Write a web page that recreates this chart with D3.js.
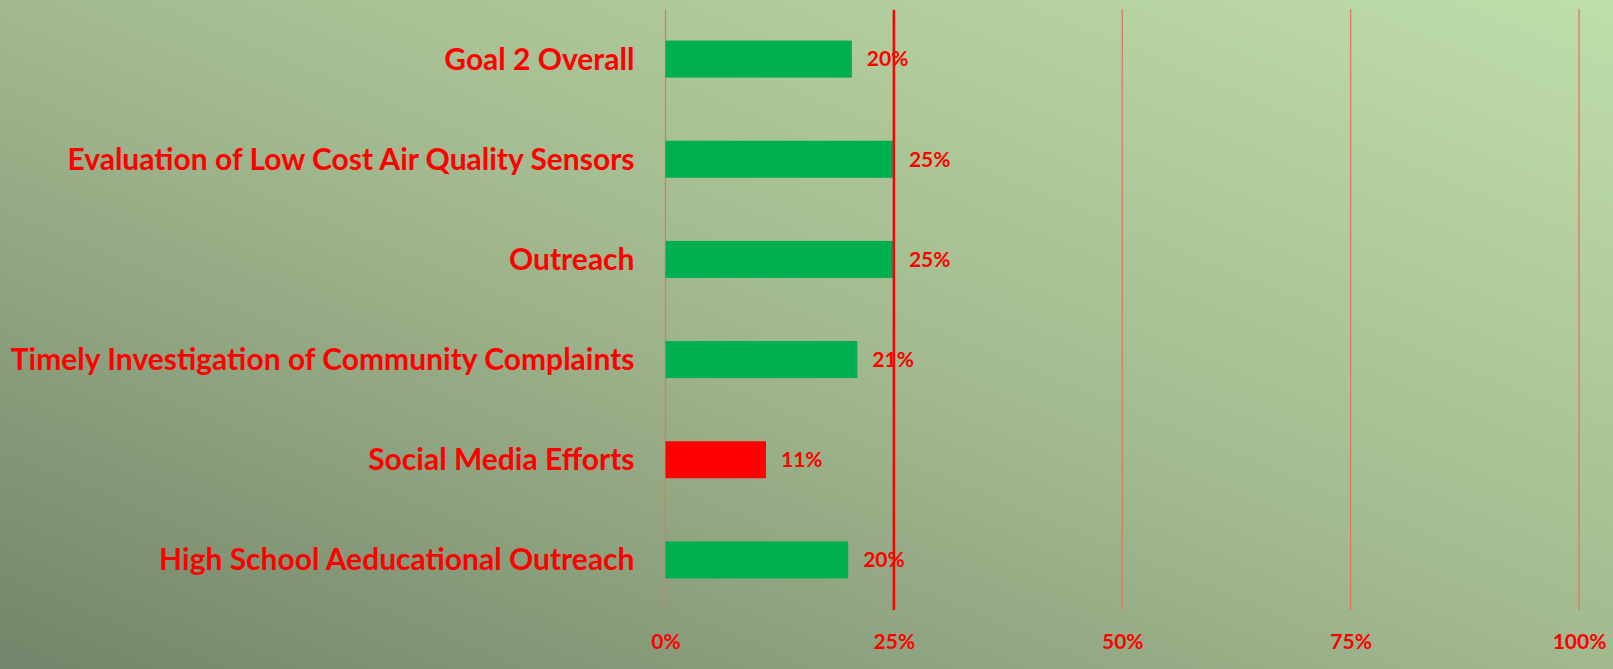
<!DOCTYPE html>
<html>
<head>
<meta charset="utf-8">
<style>
  html, body { margin:0; padding:0; overflow:hidden; }
  text { font-family: Lato, "Open Sans", sans-serif; font-weight: bold; fill: #ff0000; }
</style>
</head>
<body>
<div id="chart-area"></div>

<script src="https://cdn.jsdelivr.net/npm/d3@7"></script>
<script>
    const width = 1613;
    const height = 669;

    // data, top to bottom
    const categories = ["Goal 2 Overall", "Evaluation of Low Cost Air Quality Sensors", "Outreach",
        "Timely Investigation of Community Complaints", "Social Media Efforts", "High School Aeducational Outreach"];
    const values = [0.204, 0.25, 0.25, 0.21, 0.11, 0.20];
    const barColors = ["#00b050", "#00b050", "#00b050", "#00b050", "#ff0000", "#00b050"];
    const tickValues = [0, 0.25, 0.5, 0.75, 1];
    const targetValue = 0.25;

    const margin = {top: 9, right: 34, bottom: 59, left: 665.5};

    const svg = d3.select("#chart-area")
        .append("svg")
            .attr("width", width)
            .attr("height", height);

    // background gradient, dark bottom-left to light top-right
    const grad = svg.append("defs").append("linearGradient")
        .attr("id", "bg")
        .attr("x1", "0%").attr("y1", "100%")
        .attr("x2", "100%").attr("y2", "0%");
    grad.append("stop").attr("offset", "0%").attr("stop-color", "#73856a");
    grad.append("stop").attr("offset", "50%").attr("stop-color", "#a2b98f");
    grad.append("stop").attr("offset", "100%").attr("stop-color", "#bfdeaa");

    svg.append("rect")
        .attr("width", width).attr("height", height)
        .attr("fill", "url(#bg)");

    const x = d3.scaleLinear()
        .domain([0, 1])
        .range([margin.left, width - margin.right]);

    const y = d3.scaleBand()
        .domain(categories)
        .range([margin.top, height - margin.bottom])
        .paddingInner(0.63)
        .paddingOuter(0.315);

    // gridlines
    svg.append("g")
        .selectAll("line")
        .data(tickValues)
        .enter().append("line")
            .attr("x1", d => x(d)).attr("x2", d => x(d))
            .attr("y1", margin.top).attr("y2", height - margin.bottom)
            .attr("stroke", "#d97b63")
            .attr("stroke-width", 1.3);

    // tick labels
    const xAxis = svg.append("g")
        .attr("transform", `translate(0, ${height - margin.bottom})`)
        .call(d3.axisBottom(x).tickValues(tickValues).tickFormat(d3.format(".0%")).tickSize(0).tickPadding(24));
    xAxis.select(".domain").remove();
    xAxis.selectAll("text")
        .attr("fill", "#ff0000")
        .style("font-size", "21px");

    // bars
    svg.append("g")
        .selectAll("rect")
        .data(values)
        .enter().append("rect")
            .attr("x", x(0))
            .attr("y", (d, i) => y(categories[i]))
            .attr("width", d => x(d) - x(0))
            .attr("height", y.bandwidth())
            .attr("fill", (d, i) => barColors[i]);

    // target line
    svg.append("line")
        .attr("x1", x(targetValue)).attr("x2", x(targetValue))
        .attr("y1", margin.top + 1).attr("y2", height - margin.bottom)
        .attr("stroke", "#ff0000")
        .attr("stroke-width", 2.5);

    // category labels
    svg.append("g")
        .selectAll("text")
        .data(categories)
        .enter().append("text")
            .attr("x", x(0) - 31)
            .attr("y", d => y(d) + y.bandwidth() / 2)
            .attr("dy", "0.35em")
            .attr("text-anchor", "end")
            .style("font-size", "30px")
            .text(d => d);

    // value labels
    svg.append("g")
        .selectAll("text")
        .data(values)
        .enter().append("text")
            .attr("x", d => x(d) + 15)
            .attr("y", (d, i) => y(categories[i]) + y.bandwidth() / 2)
            .attr("dy", "0.35em")
            .style("font-size", "21px")
            .text(d => d3.format(".0%")(d));
</script>
</body>
</html>
